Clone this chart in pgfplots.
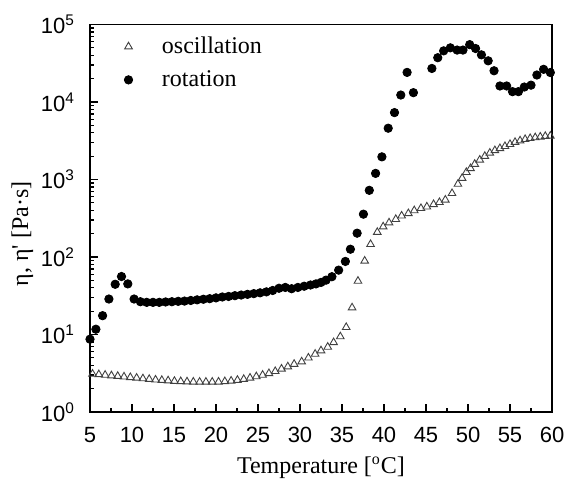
\documentclass[border=0pt]{standalone}
\usepackage{pgfplots}
\pgfplotsset{compat=1.18}
\usepackage{fontspec}
\setmainfont{Liberation Serif}
\newfontfamily\arial{Liberation Sans}
\pgfplotsset{mylegend/.style={legend image code/.code={\path (-0.2cm,0cm) (0.51cm,0cm); \draw[##1] plot coordinates {(0cm,0cm)};}}}
\begin{document}
\begin{tikzpicture}
\begin{axis}[
  scale only axis,
  width=231pt, height=193.75pt,
  xmin=5, xmax=60,
  ymode=log, ymin=1, ymax=100000,
  axis line style={line width=0.7pt},
  tick style={line width=0.6pt, black},
  tick align=inside,
  xtick pos=bottom, ytick pos=left,
  xtick={5,10,...,60},
  xticklabels={5,10,15,20,25,30,35,40,45,50,55,60},
  minor x tick num=1,
  ytick={1,10,100,1000,10000,100000},
  yticklabels={10\textsuperscript{0},10\textsuperscript{1},10\textsuperscript{2},10\textsuperscript{3},10\textsuperscript{4},10\textsuperscript{5}},
  major tick length=4pt, minor tick length=2.2pt,
  ticklabel style={font=\arial\fontsize{11}{12}\selectfont},
  xticklabel style={yshift=-4pt},
  yticklabel style={xshift=-4pt},
  xlabel={Temperature [\textsuperscript{o}C]},
  ylabel={η, η\textquotesingle\ [Pa·s]},
  label style={font=\fontsize{12}{14}\selectfont},
  xlabel style={yshift=0pt},
  ylabel style={at={(ticklabel cs:0.46)}, yshift=-3pt},
  legend style={draw=none, fill=none, at={(0.044,0.99)}, anchor=north west,
    font=\fontsize{12}{13}\selectfont, row sep=3pt, legend cell align=left},
  legend cell align=left,
]
\addplot[only marks, mark=triangle, mark size=2.2pt, draw=black!75, mark options={line width=0.45pt, fill=white},
  mylegend] coordinates {
(5.3,3.1) (6.05,3.05) (6.8,3.0) (7.55,2.95) (8.3,2.9) (9.05,2.85) (9.8,2.8) (10.55,2.75)
(11.3,2.7) (12.05,2.65) (12.8,2.6) (13.55,2.57) (14.3,2.54) (15.05,2.5) (15.8,2.48)
(16.55,2.46) (17.3,2.45) (18.05,2.44) (18.8,2.44) (19.55,2.44) (20.3,2.45) (21.05,2.48)
(21.8,2.52) (22.55,2.58) (23.3,2.65) (24.05,2.75) (24.8,2.87) (25.55,3.0) (26.3,3.15)
(27.05,3.35) (27.8,3.6) (28.55,3.85) (29.3,4.15)
(30.2,4.46) (31.0,5.0) (31.8,5.6) (32.5,6.2) (33.3,6.9) (34.0,7.9) (34.8,9.4) (35.5,12.4)
(36.2,22.2) (36.9,49) (37.7,89) (38.4,146) (39.2,209) (39.9,246) (40.6,277) (41.4,307)
(42.1,340) (42.9,365) (43.6,398) (44.4,425) (45.1,445) (45.9,478) (46.6,508) (47.3,546)
(48.1,663) (48.8,873) (49.3,1040) (49.8,1240) (50.3,1390) (50.8,1580) (51.4,1790)
(52.0,2000) (52.6,2200) (53.2,2370) (53.8,2520) (54.4,2680) (55.0,2850) (55.6,3030)
(56.2,3170) (56.8,3300) (57.4,3400) (58.0,3480) (58.6,3550) (59.2,3620) (59.8,3650)
};
\addlegendentry{oscillation}
\addplot[only marks, mark=*, mark size=2.1pt, black, mylegend] coordinates {
(5.0,8.7) (5.7,11.7) (6.5,17.5) (7.25,28.7) (8.0,44.5) (8.75,56) (9.5,45) (10.25,28.7)
(11.0,26.5) (11.75,26) (12.5,26) (13.25,26) (14.0,26.3) (14.75,26.5) (15.5,26.8)
(16.25,27) (17.0,27.5) (17.75,28) (18.5,28.5) (19.25,29) (20.0,29.7) (20.75,30.5)
(21.5,31) (22.25,31.7) (23.0,32.3) (23.75,33) (24.5,33.7) (25.25,34.5) (26.0,35.5)
(26.75,37) (27.5,39.5) (28.25,40.5) (29.0,39) (29.75,40.5)
(30.5,42) (31.25,43.5) (31.9,45) (32.5,47) (33.1,50.3) (33.8,55.7) (34.6,67.7) (35.4,87.7)
(36.0,126) (36.8,203) (37.55,357) (38.25,725) (39.0,1200) (39.75,1960) (40.5,4590)
(41.25,7300) (42.0,12300) (42.75,24100) (43.5,13200)
(45.7,27100) (46.4,37300) (47.1,45700) (47.9,50000) (48.7,46800) (49.4,46800) (50.2,55000)
(50.9,49000) (51.6,40600) (52.4,34000) (53.1,25300) (53.8,16100) (54.6,16100) (55.3,13600)
(56.0,13600) (56.7,15600) (57.5,16500) (58.2,22300) (59.0,26400) (59.8,24000)
};
\addlegendentry{rotation}
\end{axis}
\pgfresetboundingbox
\path (current axis.south west) ++(-45pt,-33.5pt) rectangle ([shift={(7.5pt,12.25pt)}]current axis.north east);
\end{tikzpicture}
\end{document}
